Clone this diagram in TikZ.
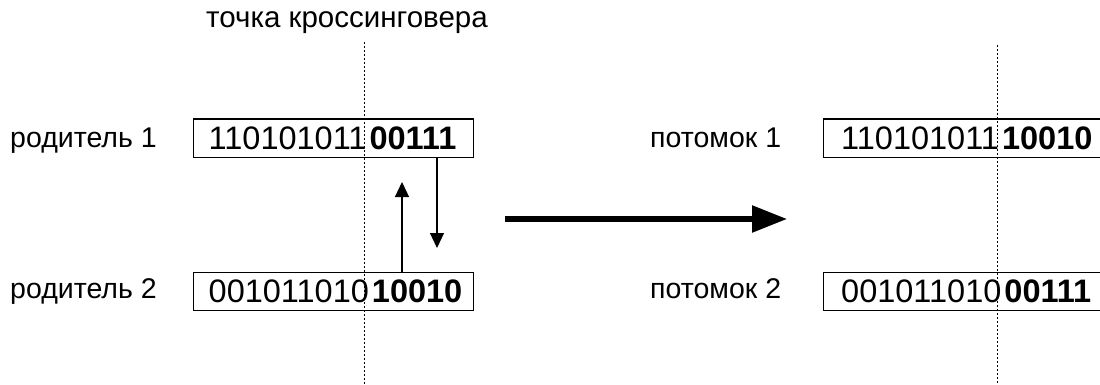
\documentclass[tikz,border=0pt]{standalone}
\usepackage{fontspec}
\setmainfont{Liberation Sans}
\usetikzlibrary{arrows.meta}
\newcommand{\bits}[2]{\makebox[250pt][l]{#1\hspace{3pt}\textbf{#2}}}
\begin{document}
\begin{tikzpicture}[x=1pt,y=-1pt,
  lbl/.style={anchor=base west,inner sep=0pt,font=\fontsize{28.5}{28.5}\selectfont},
  chrom/.style={draw,line width=1.4pt,anchor=north west,minimum height=38pt,minimum width=280pt,
    inner xsep=15pt,inner ysep=0pt,font=\fontsize{32.5}{32.5}\selectfont},
  cut/.style={line width=1pt,dash pattern=on 2pt off 2pt},
  swap/.style={line width=1.2pt,-{Triangle[length=15pt,width=14pt]}},
  big/.style={line width=5.5pt,-{Triangle[length=35pt,width=26pt]}}]
\useasboundingbox (0,0) rectangle (1100,385);
\clip (0,0) rectangle (1100,385);
\node[lbl,font=\fontsize{29.5}{29.5}\selectfont] (title) at (206,28) {точка кроссинговера};
\node[lbl] (p1l) at (10,147) {родитель 1};
\node[lbl] (p2l) at (10,298) {родитель 2};
\node[lbl] (c1l) at (650,147) {потомок 1};
\node[lbl] (c2l) at (650,298) {потомок 2};
\node[chrom] (p1) at (193,118.5) {\bits{110101011}{00111}};
\node[chrom] (p2) at (193,272) {\bits{001011010}{10010}};
\node[chrom] (c1) at (823,118.5) {\hspace{2.5pt}\bits{110101011}{10010}};
\node[chrom] (c2) at (823,272) {\hspace{2.5pt}\bits{001011010}{00111}};
\coordinate (cutLt) at (364,42);
\coordinate (cutLb) at (364,385);
\coordinate (cutRt) at (997,45);
\coordinate (cutRb) at (997,385);
\draw[cut] (cutLt) -- (cutLb);
\draw[cut] (cutRt) -- (cutRb);
\coordinate (upTip) at (402,182);
\coordinate (downTip) at (437,248);
\draw[swap] (p2.north -| upTip) -- (upTip);
\draw[swap] (p1.south -| downTip) -- (downTip);
\coordinate (bigS) at (505,219);
\coordinate (bigE) at (787,219);
\draw[big] (bigS) -- (bigE);
\end{tikzpicture}
\end{document}
